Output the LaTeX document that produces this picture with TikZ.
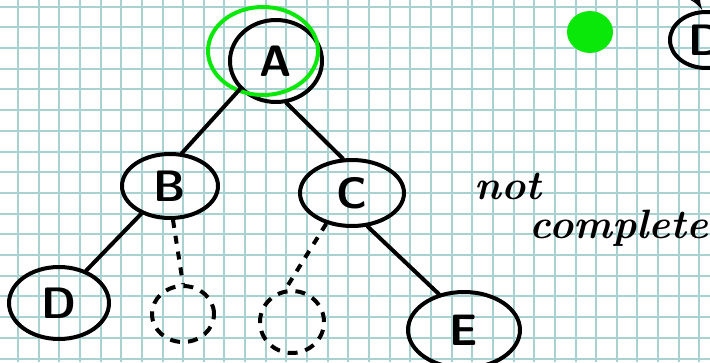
\documentclass[tikz,border=0pt]{standalone}
\usetikzlibrary{shapes.geometric,arrows,positioning}
\pgfdeclarelayer{background}
\pgfsetlayers{background,main}
\definecolor{gridteal}{RGB}{168,210,210}
\definecolor{marker}{RGB}{10,232,10}
\tikzstyle{treenode} = [draw, ellipse, line width=4pt, inner sep=0pt, font=\fontsize{44}{44}\selectfont\sffamily\bfseries]
\tikzstyle{emptynode} = [draw, ellipse, line width=4pt, dash pattern=on 10pt off 8pt, inner sep=0pt]
\tikzstyle{edge} = [draw, line width=4pt, line cap=round]
\tikzstyle{dashededge} = [draw, line width=4pt, dash pattern=on 8pt off 8pt]
\tikzstyle{gridline} = [draw=gridteal, line width=2pt]
\tikzstyle{notelabel} = [inner sep=0pt, font=\fontsize{41}{41}\selectfont\itshape\bfseries]
\newcommand{\treenode}[3]{node (n#1) [treenode, #3] {#2}}

\begin{document}
\begin{tikzpicture}[x=1pt,y=-1pt]
\useasboundingbox (0,0) rectangle (710,362);
\begin{pgfonlayer}{background}
\foreach \i [evaluate=\i as \gx using round(18+\i*20.65)] in {0,...,33}
  \path [gridline] (\gx pt,0pt) -- (\gx pt,-362pt);
\foreach \j [evaluate=\j as \gy using round(6.7+\j*20.7)] in {0,...,17}
  \path [gridline] (0pt,-\gy pt) -- (710pt,-\gy pt);
\end{pgfonlayer}

\path (276,61) \treenode{A}{A}{minimum width=92pt, minimum height=82pt};
\path (nA)+(-106,125) \treenode{B}{B}{minimum width=96pt, minimum height=64pt};
\path (nA)+(76,132) \treenode{C}{C}{minimum width=104pt, minimum height=66pt};
\path (nB)+(-111,117) \treenode{D}{D}{minimum width=100pt, minimum height=72pt};
\path (nC)+(112,137) \treenode{E}{E}{minimum width=112pt, minimum height=76pt};
\path (nB)+(13,128) node (nBr) [emptynode, minimum width=62pt, minimum height=56pt] {};
\path (nC)+(-60,129) node (nCl) [emptynode, minimum width=64pt, minimum height=62pt] {};
\path (706,40) \treenode{Dtop}{D}{minimum width=72pt, minimum height=56pt};

\path (nA)+(-13,-10) node (ring) [draw=marker, ellipse, line width=4pt, minimum width=110pt, minimum height=88pt] {};
\path (590,32) node (blob) [fill=marker, ellipse, minimum width=46pt, minimum height=42pt] {};

\path (508,186) node (lblnot) [notelabel] {not};
\path (lblnot)+(111,42) node (lblcomplete) [notelabel] {complete};

\coordinate (into) at (690,-12);
\path [edge, -latex'] (into) -- (nDtop.97);
\path [edge] (nA.218) -- (nB.70);
\path [edge] (nA.284) -- (nC.105);
\path [edge] (nB.224) -- (nD.50);
\path [edge] (nC.295) -- (nE.125);
\path [dashededge] (nB.275) -- (nBr.north);
\path [dashededge] (nC.230) -- (nCl.102);
\end{tikzpicture}
\end{document}
